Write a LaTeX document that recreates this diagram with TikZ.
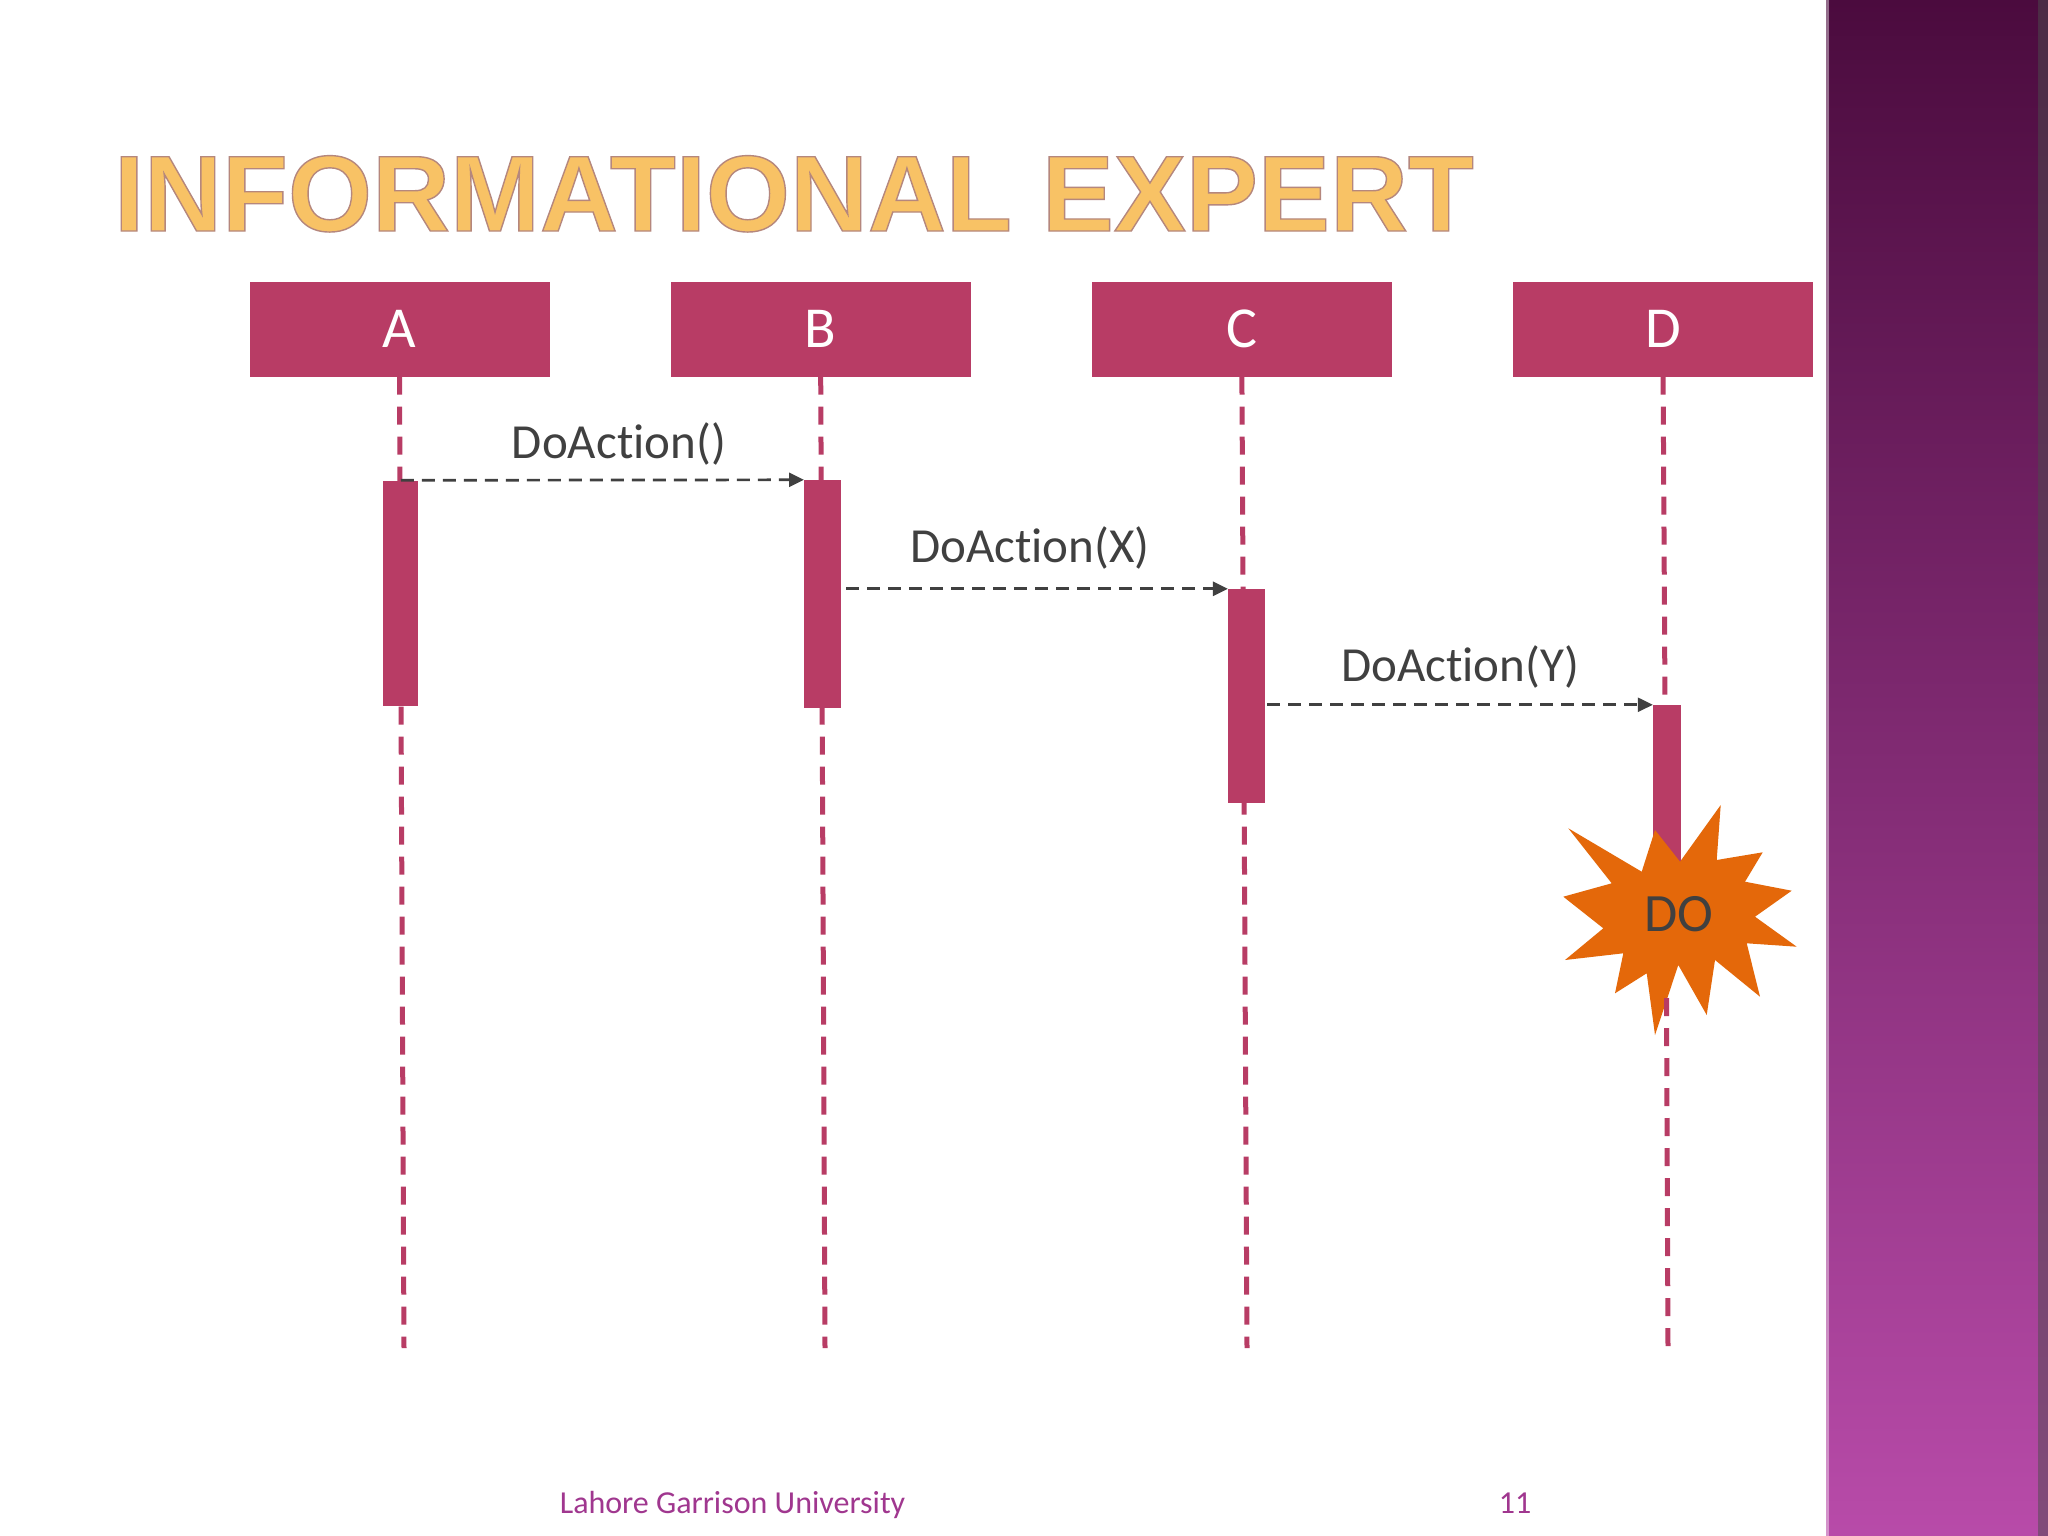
\documentclass[tikz,border=0pt]{standalone}
\usepackage{fontspec}
\setmainfont{Carlito}[Ligatures=NoCommon]
\newfontfamily\titlefont{Liberation Sans}
\usetikzlibrary{arrows.meta,positioning,calc}

\definecolor{hdrred}{HTML}{B83C65}
\definecolor{msggray}{HTML}{404040}
\definecolor{starorange}{HTML}{E4680A}
\definecolor{footpurple}{HTML}{A0378F}
\definecolor{titlefill}{HTML}{F8C265}
\definecolor{barTop}{HTML}{4B0B3E}
\definecolor{barBottom}{HTML}{B84BA9}

\tikzset{
  hdrbox/.style={fill=hdrred, minimum width=300pt, minimum height=95pt, inner sep=0pt,
    text=white, font=\fontsize{58}{60}\selectfont},
  actbar/.style={fill=hdrred, inner sep=0pt},
  lifeline/.style={draw=hdrred, line width=5pt, dash pattern=on 18pt off 12pt},
  msg/.style={draw=msggray, line width=2.7pt, dash pattern=on 13pt off 8pt,
    -{Triangle[length=15pt,width=14pt]}},
  msglabel/.style={text=msggray, font=\fontsize{49}{55}\selectfont, inner sep=0pt, anchor=base},
}

\begin{document}
\begin{tikzpicture}[x=1pt,y=-1pt]
    \useasboundingbox (0,0) rectangle (2048,1536);
    \fill[white] (0,0) rectangle (2048,1536);

    % side bar
    \shade[top color=barTop, bottom color=barBottom] (1826,0) rectangle (2048,1536);
    \fill[black!70, opacity=0.5] (2038,0) rectangle (2048,1536);
    \fill[white, opacity=0.4] (1826,0) rectangle (1829,1536);

    % title
    \node[anchor=base, inner sep=0pt, text=titlefill, font=\titlefont\bfseries\fontsize{108}{112}\selectfont]
        (title) at (794,231) {\special{pdf:code 0.71 0.53 0.49 RG 1.4 w 2 Tr}INFORMATIONAL EXPERT\special{pdf:code 0 Tr}};

    % participants
    \node[hdrbox] (hdrA) at (399.5,329) {A};
    \node[hdrbox] (hdrB) at (820.7,329) {B};
    \node[hdrbox] (hdrC) at (1241.9,329) {C};
    \node[hdrbox] (hdrD) at (1663.1,329) {D};

    \coordinate (endA) at (404,1348);
    \coordinate (endB) at (825,1348);
    \coordinate (endC) at (1247,1348);
    \coordinate (endD) at (1668,1348);
    \coordinate (topD) at (1665,705);
    \coordinate (lowD) at (1666.5,998);

    % lifelines
    \draw[lifeline] (hdrA.south) -- (endA);
    \draw[lifeline] (hdrB.south) -- (endB);
    \draw[lifeline] (hdrC.south) -- (endC);
    \draw[lifeline] (hdrD.south) -- (topD);

    % activations
    \node[actbar, minimum width=35pt, minimum height=225pt] (actA) at (400.8,593) {};
    \node[actbar, minimum width=37pt, minimum height=228pt] (actB) at (822.7,594) {};
    \node[actbar, minimum width=37pt, minimum height=214pt] (actC) at (1246.6,696) {};
    \node[actbar, minimum width=28pt, minimum height=190pt] (actD) at (1667,800) {};

    % messages
    \draw[msg] (actA.north) -- (actB.north west);
    \node[msglabel] (lblA) at (619,458) {DoAction()};
    \draw[msg] ([xshift=5pt]actB.east |- actC.north) -- (actC.north west);
    \node[msglabel] (lblB) at (1030,562) {DoAction(X)};
    \draw[msg] ([xshift=2pt]actC.east |- actD.north) -- (actD.north west);
    \node[msglabel] (lblC) at (1460,681) {DoAction(Y)};

    % burst
    \fill[starorange] (1720.7,805) -- (1716.7,860) -- (1762.7,852.3) -- (1745,881.7)
        -- (1791.7,890.7) -- (1755,916.7) -- (1796.7,946.7) -- (1746.7,943.3)
        -- (1760,996.7) -- (1715,960) -- (1706.7,1015) -- (1678.3,965)
        -- (1655,1035) -- (1646.7,973.3) -- (1615,993.3) -- (1623.3,953.3)
        -- (1565,960) -- (1603.3,928.3) -- (1563.3,896.7) -- (1611.7,883.3)
        -- (1568.3,828.3) -- (1641.7,871.7) -- (1655,830) -- (1680,861.7) -- cycle;
    \node[text=msggray, font=\fontsize{54}{56}\selectfont, inner sep=0pt] (burst) at (1679,914) {DO};
    \draw[lifeline] (lowD) -- (endD);

    % footer
    \node[anchor=base, text=footpurple, font=\fontsize{32}{36}\selectfont, inner sep=0pt]
        (uni) at (732.5,1513) {Lahore Garrison University};
    \node[anchor=base, text=footpurple, font=\fontsize{32}{36}\selectfont, inner sep=0pt]
        (page) at (1515,1513) {11};
\end{tikzpicture}
\end{document}
